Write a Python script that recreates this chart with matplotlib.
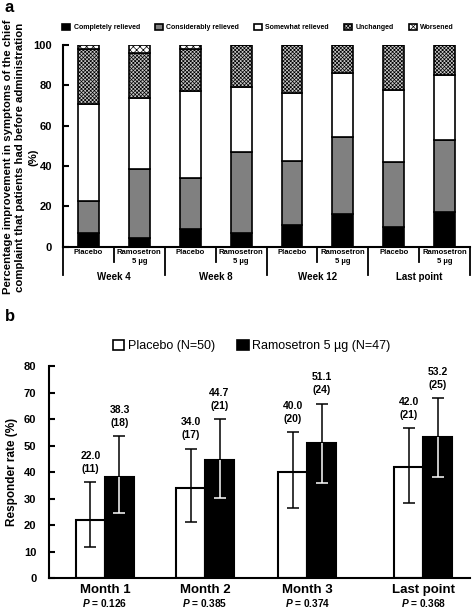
import matplotlib
matplotlib.use("Agg")
import matplotlib.pyplot as plt
from matplotlib.patches import Rectangle
import numpy as np

plt.rcParams['font.family'] = ['Liberation Sans', 'DejaVu Sans']
plt.rcParams['font.weight'] = 'bold'
plt.rcParams['axes.labelweight'] = 'bold'
plt.rcParams['mathtext.fontset'] = 'custom'
plt.rcParams['mathtext.it'] = 'Liberation Sans:bold:italic'
plt.rcParams['mathtext.rm'] = 'Liberation Sans:bold'
plt.rcParams['hatch.linewidth'] = 0.5

# ---- panel a data (percent of patients, stacked bottom -> top)
weeks = ["Week 4", "Week 8", "Week 12", "Last point"]
arms = ["Placebo", "Ramosetron\n5 \u00b5g"]
categories = ["Completely relieved", "Considerably relieved", "Somewhat relieved",
              "Unchanged", "Worsened"]
# order: P wk4, R wk4, P wk8, R wk8, P wk12, R wk12, P last, R last
completely = [6.5, 4.4, 8.5, 6.8, 10.7, 16.0, 9.8, 17.0]
considerably = [16.2, 34.0, 25.7, 40.2, 31.7, 38.5, 32.0, 35.9]
somewhat = [47.9, 35.1, 43.0, 32.0, 33.6, 31.8, 35.9, 32.0]
unchanged = [27.3, 22.4, 20.7, 21.0, 24.0, 13.7, 22.3, 15.1]
worsened = [2.1, 4.1, 2.1, 0.0, 0.0, 0.0, 0.0, 0.0]
ylabel_a = ["Percentage improvement in symptoms of the chief",
            "complaint that patients had before administration",
            "(%)"]

# ---- panel b data
months = ["Month 1", "Month 2", "Month 3", "Last point"]
p_values = ["0.126", "0.385", "0.374", "0.368"]
placebo_rate = [22.0, 34.0, 40.0, 42.0]
placebo_n = [11, 17, 20, 21]
placebo_lo = [11.9, 21.4, 26.5, 28.5]
placebo_hi = [36.2, 49.0, 55.1, 56.8]
ramo_rate = [38.3, 44.7, 51.1, 53.2]
ramo_n = [18, 21, 24, 25]
ramo_lo = [24.8, 30.4, 36.1, 38.3]
ramo_hi = [53.8, 60.1, 66.0, 68.1]

fig = plt.figure(figsize=(4.72, 6.09), dpi=100)

# ================= panel a =================
ax = fig.add_axes([0.1335, 0.5952, 0.8623, 0.3309])
x = np.arange(8) + 0.5
segs = [completely, considerably, somewhat, unchanged, worsened]
colors = ["black", "#808080", "white", "#c8c8c8", "white"]
hatches = [None, None, None, "xxxxxxxxx", "xxxxx"]
bottom = np.zeros(8)
handles = []
for vals, c, h, lab in zip(segs, colors, hatches, categories):
    b = ax.bar(x, vals, 0.41, bottom=bottom, color=c, edgecolor="black",
               linewidth=1.2, hatch=h, label=lab)
    handles.append(b)
    bottom += np.array(vals)

ax.set_xlim(0, 8)
ax.set_ylim(0, 100)
ax.set_yticks(range(0, 101, 20))
ax.set_xticks([])
ax.tick_params(axis='y', direction='in', length=4, width=1.5, labelsize=8, pad=8)
for s in ["top", "right"]:
    ax.spines[s].set_visible(False)
for s in ["left", "bottom"]:
    ax.spines[s].set_linewidth(1.5)

tr = ax.get_xaxis_transform()
for i in range(8):
    lines = arms[i % 2].split("\n")
    ax.text(x[i], -0.031, lines[0], transform=tr, ha="center", va="center", fontsize=5.5)
    if len(lines) > 1:
        ax.text(x[i], -0.075, lines[1], transform=tr, ha="center", va="center", fontsize=5.5)
for k in range(4):
    ax.plot([2 * k + 1, 2 * k + 1], [0, -0.077], transform=tr, color="black",
            lw=1.3, clip_on=False)
for k in range(5):
    ax.plot([2 * k, 2 * k], [0, -0.14], transform=tr, color="black",
            lw=1.3, clip_on=False)
for k, wk in enumerate(weeks):
    ax.text(2 * k + 1, -0.151, wk, transform=tr, ha="center", va="center", fontsize=7)

# y label drawn line by line
for xl, txt in zip([-0.135, -0.1055, -0.074], ylabel_a):
    ax.text(xl, 0.444, txt, transform=ax.transAxes, rotation=90,
            ha="center", va="center", fontsize=8.2)

fig.legend(handles=handles, labels=categories, ncol=5, loc="center",
           bbox_to_anchor=(0.547, 0.955), frameon=False, fontsize=5,
           handlelength=1.1, handleheight=1.1, handletextpad=0.5,
           columnspacing=2.2, borderaxespad=0)

fig.text(0.01, 0.987, "a", fontsize=12, ha="left", va="center")
fig.text(0.01, 0.48, "b", fontsize=12, ha="left", va="center")

# ================= panel b =================
bx = fig.add_axes([0.1038, 0.0504, 0.892, 0.3478])
gx = np.array([0, 1, 2.023, 3.183])  # group centres
w = 0.29
bx.bar(gx - w / 2, placebo_rate, w, color="white", edgecolor="black", linewidth=1.5)
bx.bar(gx + w / 2, ramo_rate, w, color="black", edgecolor="black", linewidth=1.5)

cap = dict(marker="_", markersize=8, markeredgewidth=1.1, linestyle="none")
# placebo: black whiskers all the way
bx.vlines(gx - w / 2, placebo_lo, placebo_hi, colors="black", lw=1.1)
bx.plot(gx - w / 2, placebo_lo, color="black", **cap)
bx.plot(gx - w / 2, placebo_hi, color="black", **cap)
# ramosetron: white inside the black bar, black above it
bx.vlines(gx + w / 2, ramo_lo, ramo_rate, colors="white", lw=1.1)
bx.plot(gx + w / 2, ramo_lo, color="white", **cap)
bx.vlines(gx + w / 2, ramo_rate, ramo_hi, colors="black", lw=1.1)
bx.plot(gx + w / 2, ramo_hi, color="black", **cap)

for xi, r, n, hi in zip(gx - w / 2, placebo_rate, placebo_n, placebo_hi):
    bx.annotate(f"{r:.1f}\n({n})", (xi, hi), xytext=(0, 6), textcoords="offset points",
                ha="center", va="bottom", fontsize=7.5, linespacing=1.35)
for xi, r, n, hi in zip(gx + w / 2, ramo_rate, ramo_n, ramo_hi):
    bx.annotate(f"{r:.1f}\n({n})", (xi, hi), xytext=(0, 6), textcoords="offset points",
                ha="center", va="bottom", fontsize=7.5, linespacing=1.35)

bx.set_xlim(-0.56, 3.65)
bx.set_ylim(0, 80)
bx.set_yticks(range(0, 81, 10))
bx.set_xticks([])
bx.tick_params(axis='y', direction='in', length=4, width=1.5, labelsize=8, pad=9)
for s in ["top", "right"]:
    bx.spines[s].set_visible(False)
for s in ["left", "bottom"]:
    bx.spines[s].set_linewidth(1.5)

trb = bx.get_xaxis_transform()
for xi, m, p in zip(gx, months, p_values):
    bx.text(xi, -0.055, m, transform=trb, ha="center", va="center", fontsize=9.5)
    bx.text(xi, -0.118, f"$P$ = {p}", transform=trb, ha="center", va="center", fontsize=7.3)

bx.set_ylabel("Responder rate (%)", fontsize=8.5, labelpad=4)

leg_h = [Rectangle((0, 0), 1, 1, facecolor="white", edgecolor="black", lw=1.2),
         Rectangle((0, 0), 1, 1, facecolor="black", edgecolor="black", lw=1.2)]
fig.legend(handles=leg_h, labels=["Placebo (N=50)", "Ramosetron 5 \u00b5g (N=47)"],
           ncol=2, loc="center", bbox_to_anchor=(0.533, 0.432), frameon=False,
           prop={"size": 9, "weight": "normal"}, handlelength=0.9, handleheight=0.9,
           handletextpad=0.3, columnspacing=1.8, borderaxespad=0)

fig.savefig("out.png", dpi=100)
